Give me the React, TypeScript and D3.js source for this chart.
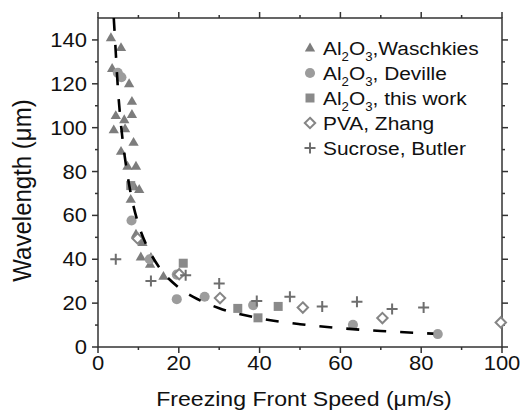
import React from "react";
import * as d3 from "d3";

// Data (freezing front speed µm/s, wavelength µm)
const waschkiesV = [3.2, 5.7, 3.5, 7.7, 8.4, 4.4, 8.4, 6.5, 3.9, 6.7, 8.8, 5.7, 7.3, 9.4, 9.0, 10.2, 8.1, 9.4, 11.0, 10.6, 13.1, 12.9, 16.2];
const waschkiesL = [141, 136.5, 127, 120, 112, 105.5, 106, 103.6, 99, 99.5, 93.3, 89.2, 82.4, 82.4, 73, 71.8, 67.3, 51.4, 47.6, 41, 40.8, 37.7, 32.2];
const devilleV = [4.9, 5.8, 8.3, 12.8, 19.5, 19.5, 26.4, 38.4, 63.1, 84.1];
const devilleL = [125, 123, 57.7, 40, 33, 21.8, 22.9, 19.1, 10.1, 5.9];
const thisWorkV = [8.1, 21.1, 34.6, 39.6, 44.6];
const thisWorkL = [73.6, 38.2, 17.6, 13.3, 18.5];
const zhangV = [9.8, 20.1, 30.2, 50.7, 70.4, 99.7];
const zhangL = [49.5, 33.2, 22.3, 18.0, 13.2, 11.2];
const butlerV = [4.4, 13.1, 21.7, 30.0, 39.3, 47.5, 55.5, 64.1, 72.8, 80.6];
const butlerL = [40, 30.1, 32.7, 29.0, 21.0, 22.9, 18.5, 20.6, 17.3, 18.0];
// dashed fit curve
const fitV = [3.9, 4, 5, 6, 7, 8, 10, 12, 15, 20, 25, 30, 40, 50, 60, 70, 83];
const fitL = [150, 147, 116, 96, 82, 71, 56, 46.4, 36.7, 27.1, 21.5, 17.7, 13.1, 10.4, 8.6, 7.3, 6.1];

const xMajor = [0, 20, 40, 60, 80, 100];
const xMinor = [10, 30, 50, 70, 90];
const yMajor = [0, 20, 40, 60, 80, 100, 120, 140];
const yMinor = [10, 30, 50, 70, 90, 110, 130];

const legendItems = [
  { kind: "tri", parts: [["Al", 0], ["2", 1], ["O", 0], ["3", 1], [",Waschkies", 0]] },
  { kind: "circ", parts: [["Al", 0], ["2", 1], ["O", 0], ["3", 1], [", Deville", 0]] },
  { kind: "sq", parts: [["Al", 0], ["2", 1], ["O", 0], ["3", 1], [", this work", 0]] },
  { kind: "dia", parts: [["PVA, Zhang", 0]] },
  { kind: "plus", parts: [["Sucrose, Butler", 0]] },
];

const W = 528;
const H = 411;
const x = d3.scaleLinear().domain([0, 100]).range([98, 502]);
const y = d3.scaleLinear().domain([0, 150]).range([347, 18]);

const FONT = "'Liberation Sans', Arial, Helvetica, sans-serif";
const AX = "#333";
const C_TRI = "#7d7d7d";
const C_CIRC = "#9c9c9c";
const C_SQ = "#8a8a8a";
const C_DIA = "#858585";
const C_PLUS = "#6e6e6e";

const triPath = d3.symbol(d3.symbolTriangle, 46)()!;
const circPath = d3.symbol(d3.symbolCircle, 80)()!;
const sqPath = d3.symbol(d3.symbolSquare, 81)()!;

function Marker({ kind, cx, cy }: { kind: string; cx: number; cy: number }) {
  const t = `translate(${cx},${cy})`;
  if (kind === "tri") return <path d={triPath} transform={`translate(${cx},${cy + 0.5})`} fill={C_TRI} />;
  if (kind === "circ") return <path d={circPath} transform={t} fill={C_CIRC} />;
  if (kind === "sq") return <path d={sqPath} transform={t} fill={C_SQ} />;
  if (kind === "dia")
    return (
      <path d="M0,-5.2L5.2,0L0,5.2L-5.2,0Z" transform={t} fill="white" stroke={C_DIA} strokeWidth={2} />
    );
  return <path d="M-5.5,0H5.5M0,-5.5V5.5" transform={t} fill="none" stroke={C_PLUS} strokeWidth={2} />;
}

export default function App() {
  const fitLine = d3
    .line<number>()
    .x((_, i) => x(fitV[i]))
    .y((_, i) => y(fitL[i]))
    .curve(d3.curveMonotoneX)(fitV)!;

  const series = [
    { kind: "tri", v: waschkiesV, l: waschkiesL },
    { kind: "circ", v: devilleV, l: devilleL },
    { kind: "sq", v: thisWorkV, l: thisWorkL },
    { kind: "dia", v: zhangV, l: zhangL },
    { kind: "plus", v: butlerV, l: butlerL },
  ];

  const x0 = x(0), x1 = x(100), y0 = y(0), y1 = y(150);
  const sx = 1.1;

  return (
    <svg
      width={W}
      height={H}
      viewBox={`0 0 ${W} ${H}`}
      style={{ position: "absolute", left: 0, top: 0, background: "white" }}
      fontFamily={FONT}
    >
      <rect x={0} y={0} width={W} height={H} fill="white" />
      {/* frame */}
      <rect x={x0} y={y1} width={x1 - x0} height={y0 - y1} fill="none" stroke={AX} strokeWidth={1.5} />
      {/* x ticks bottom/top */}
      {xMajor.map((v) => (
        <g key={"xM" + v}>
          <line x1={x(v)} x2={x(v)} y1={y0} y2={y0 + 6} stroke={AX} strokeWidth={1.5} />
          <line x1={x(v)} x2={x(v)} y1={y1} y2={y1 - 6} stroke={AX} strokeWidth={1.5} />
          <text transform={`translate(${x(v)},370) scale(${sx},1)`} textAnchor="middle" fontSize={20} fill="#111">
            {v}
          </text>
        </g>
      ))}
      {xMinor.map((v) => (
        <g key={"xm" + v}>
          <line x1={x(v)} x2={x(v)} y1={y0} y2={y0 + 3} stroke={AX} strokeWidth={1.5} />
          <line x1={x(v)} x2={x(v)} y1={y1} y2={y1 - 3} stroke={AX} strokeWidth={1.5} />
        </g>
      ))}
      {/* y ticks left/right */}
      {yMajor.map((v) => (
        <g key={"yM" + v}>
          <line x1={x0} x2={x0 - 6} y1={y(v)} y2={y(v)} stroke={AX} strokeWidth={1.5} />
          <line x1={x1} x2={x1 + 6} y1={y(v)} y2={y(v)} stroke={AX} strokeWidth={1.5} />
          <text transform={`translate(87,${y(v) + 7}) scale(${sx},1)`} textAnchor="end" fontSize={20} fill="#111">
            {v}
          </text>
        </g>
      ))}
      {yMinor.map((v) => (
        <g key={"ym" + v}>
          <line x1={x0} x2={x0 - 3} y1={y(v)} y2={y(v)} stroke={AX} strokeWidth={1.5} />
          <line x1={x1} x2={x1 + 3} y1={y(v)} y2={y(v)} stroke={AX} strokeWidth={1.5} />
        </g>
      ))}
      {/* axis titles */}
      <text transform={`translate(304,406) scale(${sx},1)`} textAnchor="middle" fontSize={21} fill="#111">
        Freezing Front Speed (μm/s)
      </text>
      <text
        transform={`translate(31,190.5) scale(${sx},1) rotate(-90)`}
        textAnchor="middle"
        fontSize={24}
        fill="#111"
      >
        Wavelength (μm)
      </text>
      {/* data */}
      {series.map((s) =>
        s.v.map((v, i) => <Marker key={s.kind + i} kind={s.kind} cx={x(v)} cy={y(s.l[i])} />)
      )}
      <path d={fitLine} fill="none" stroke="#000" strokeWidth={2.6} strokeDasharray="13,14" />
      {/* legend */}
      {legendItems.map((it, i) => {
        const cy = 48 + i * 25;
        return (
          <g key={"lg" + i}>
            <Marker kind={it.kind} cx={310} cy={cy} />
            <text transform={`translate(323,${cy + 6.5}) scale(${sx},1)`} fontSize={19} fill="#111">
              {it.parts.map(([t, sub], j) =>
                sub ? (
                  <tspan key={j} fontSize={12} dy={j === 1 || j === 3 ? 6 : 0}>
                    {t}
                  </tspan>
                ) : (
                  <tspan key={j} dy={j === 2 || j === 4 ? -6 : 0}>
                    {t}
                  </tspan>
                )
              )}
            </text>
          </g>
        );
      })}
    </svg>
  );
}
